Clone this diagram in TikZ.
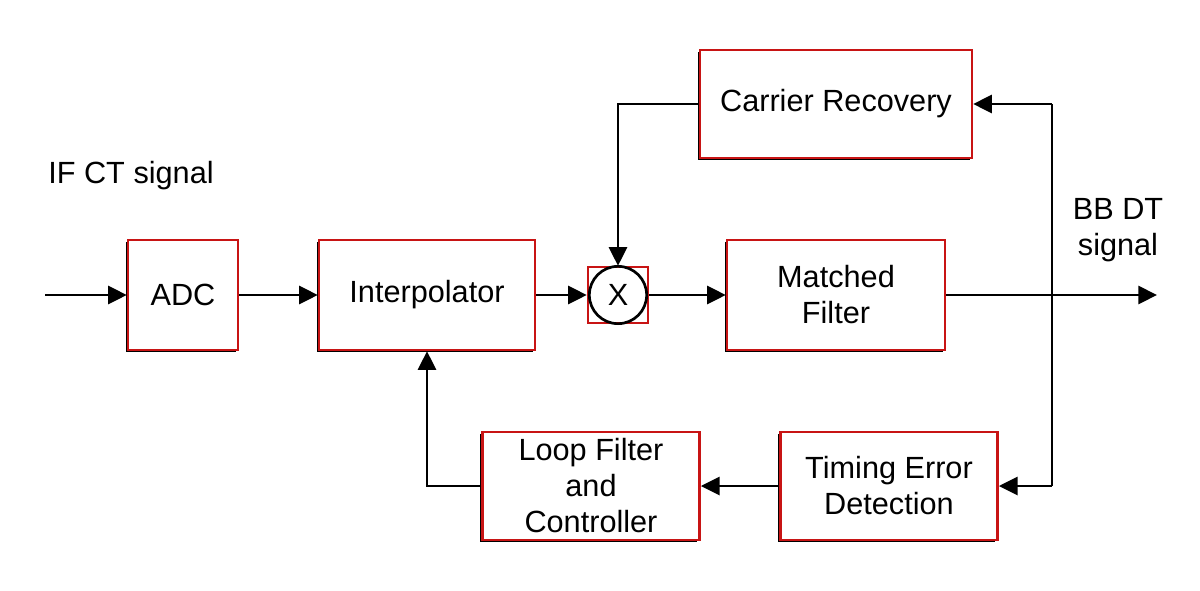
\documentclass[tikz,border=0pt]{standalone}
\usepackage{fontspec}
\setmainfont{Liberation Sans}
\usetikzlibrary{arrows.meta,shadows}

\definecolor{boxred}{RGB}{200,20,20}

\tikzset{every picture/.style={line width=0.75pt}}
\tikzset{
  blk/.style={draw=boxred, line width=1.8pt, fill=white, align=center,
    inner sep=0pt, font=\fontsize{23}{27}\selectfont,
    general shadow={fill=black, shadow xshift=-1.8pt, shadow yshift=-1.8pt}},
  wire/.style={line width=2.1pt},
  arr/.style={wire, -{Triangle[length=14pt,width=13.5pt]}},
  lbl/.style={align=center, inner sep=0pt, font=\fontsize{23}{27}\selectfont}
}

\begin{document}
\begin{tikzpicture}[x=0.75pt,y=0.75pt,yscale=-1,xscale=1]
\useasboundingbox (0,0) rectangle (1200,590);

% Blocks
\node [blk, minimum width=82.5pt, minimum height=82.5pt] (adc) at (183,295) {ADC};
\node [blk, minimum width=162pt, minimum height=82.5pt] (interp) at (427,295) {Interpolator};
\node [draw=boxred, line width=1.8pt, minimum width=45pt, minimum height=42pt, inner sep=0pt] (mix) at (618,295) {};
\node [draw, circle, line width=2pt, minimum size=43pt, inner sep=0pt, font=\fontsize{23}{27}\selectfont] (mult) at (618,295) {X};
\node [blk, minimum width=163.5pt, minimum height=82.5pt] (mf) at (836,295) {Matched\\Filter};
\node [blk, minimum width=204pt, minimum height=81pt] (cr) at (836,104) {Carrier Recovery};
\node [blk, minimum width=163pt, minimum height=81pt] (ted) at (889,486) {Timing Error\\Detection};
\node [blk, minimum width=163pt, minimum height=81pt] (lf) at (591,486) {Loop Filter\\and\\Controller};

% Labels
\node [lbl] (inlbl) at (131,176) {IF CT signal};
\node [lbl] (outlbl) at (1118,230) {BB DT\\signal};

% Ends and taps
\coordinate (in) at (45,295);
\coordinate (out) at (1157,295);
\coordinate (tapcr) at (1052,104);
\coordinate (tapted) at (1052,486);

% Forward path
\draw [arr] (in) -- (adc);
\draw [arr] (adc) -- (interp);
\draw [arr] (interp) -- (mix);
\draw [arr] (mix) -- (mf);
\draw [arr] (mf) -- (out);

% Carrier loop
\draw [wire] (tapted) -- (tapcr);
\draw [arr] (tapcr) -- (cr);
\draw [arr] (cr.west) -| (mix.north);

% Timing loop
\draw [arr] (tapted) -- (ted);
\draw [arr] (ted) -- (lf);
\draw [arr] (lf.west) -| (interp.south);

\end{tikzpicture}
\end{document}
